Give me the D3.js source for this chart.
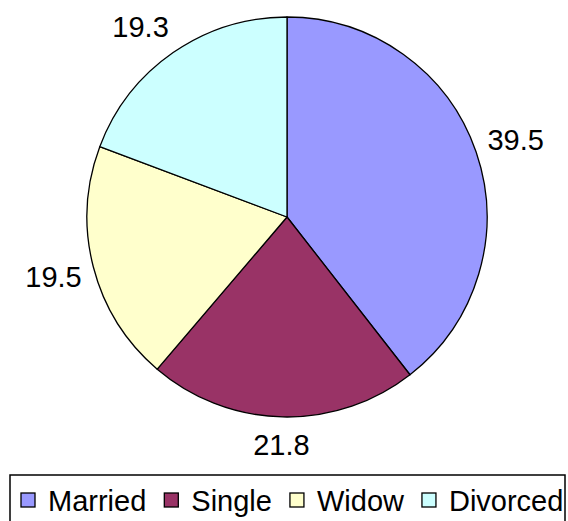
<!DOCTYPE html>
<html>
<head>
<meta charset="utf-8">
<script src="https://cdn.jsdelivr.net/npm/d3@7"></script>
<style>
  body { margin: 0; background: #fff; }
  svg { display: block; font-family: "Liberation Sans", Arial, sans-serif; }
</style>
</head>
<body>
<div class="canvas"></div>
<script>
const categories = ["Married", "Single", "Widow", "Divorced"];
const values = [39.5, 21.8, 19.5, 19.3];
const colors = ["#9999ff", "#993366", "#ffffcc", "#ccffff"];

const width = 568, height = 521;
const cx = 287, cy = 217, radius = 200;

const svg = d3.select(".canvas").append("svg")
  .attr("width", width)
  .attr("height", height);

let data = categories.map((c, i) => ({ name: c, value: values[i], color: colors[i] }));

let pie = d3.pie().sort(null).value((d) => d.value);
let arc = d3.arc().innerRadius(0).outerRadius(radius);
let arcs = pie(data);

let g = svg.append("g").attr("transform", `translate(${cx},${cy})`);

g.selectAll("path")
  .data(arcs)
  .enter()
  .append("path")
  .attr("d", arc)
  .attr("fill", (d) => d.data.color)
  .attr("stroke", "#000")
  .attr("stroke-width", 1.3)
  .attr("stroke-linejoin", "round");

// labels outside the slices, box pushed away from the pie
let labelR = radius + 12;
let clamp = (v) => Math.max(-1, Math.min(1, v * 1.6));
g.selectAll("text.lbl")
  .data(arcs)
  .enter()
  .append("text")
  .attr("class", "lbl")
  .attr("font-size", 29)
  .attr("text-anchor", "middle")
  .attr("dy", "0.36em")
  .text((d) => d.data.value.toFixed(1))
  .each(function (d) {
    let a = (d.startAngle + d.endAngle) / 2;
    let w = this.getComputedTextLength();
    let x = Math.sin(a) * labelR + clamp(Math.sin(a)) * w / 2;
    let y = -Math.cos(a) * labelR - clamp(Math.cos(a)) * 16;
    d3.select(this).attr("x", x).attr("y", y);
  });

// legend
let legend = svg.append("g");
legend.append("rect")
  .attr("x", 10)
  .attr("y", 475)
  .attr("width", 555)
  .attr("height", 60)
  .attr("fill", "#fff")
  .attr("stroke", "#000")
  .attr("stroke-width", 1.5);

let lx = 21;
data.forEach((d) => {
  legend.append("rect")
    .attr("x", lx)
    .attr("y", 493)
    .attr("width", 14)
    .attr("height", 14)
    .attr("fill", d.color)
    .attr("stroke", "#000")
    .attr("stroke-width", 1.3);
  let t = legend.append("text")
    .attr("x", lx + 27)
    .attr("y", 511)
    .attr("font-size", 29)
    .text(d.name);
  lx += 27 + t.node().getComputedTextLength() + 18;
});
</script>
</body>
</html>
